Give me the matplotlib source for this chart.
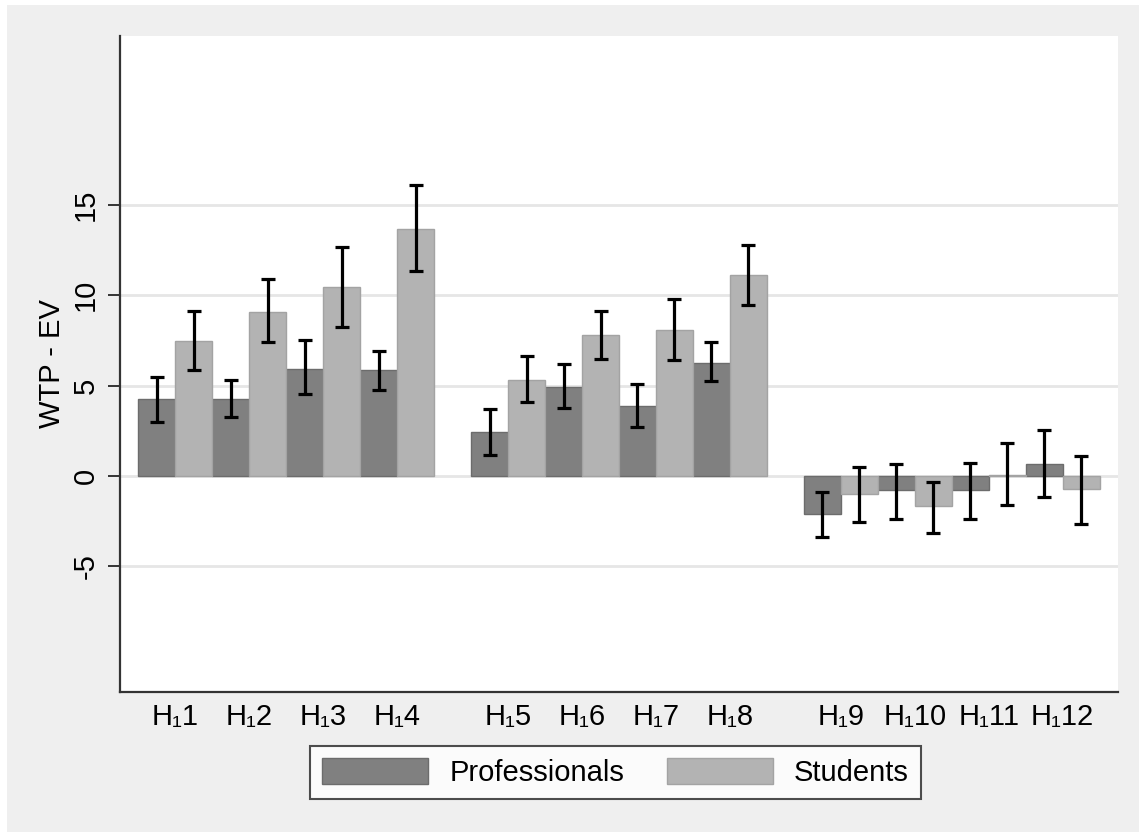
import matplotlib
matplotlib.use("Agg")
import matplotlib.pyplot as plt
from matplotlib.patches import Rectangle
import numpy as np

plt.rcParams['font.family'] = ['Liberation Sans', 'DejaVu Sans']

# hypotheses, in three blocks of four
labels = ["H\u20811", "H\u20812", "H\u20813", "H\u20814",
          "H\u20815", "H\u20816", "H\u20817", "H\u20818",
          "H\u20819", "H\u208110", "H\u208111", "H\u208112"]

# mean WTP - EV with confidence bounds
prof = [4.24, 4.24, 5.92, 5.87, 2.45, 4.93, 3.89, 6.27, -2.10, -0.79, -0.79, 0.66]
prof_lo = [2.97, 3.25, 4.52, 4.78, 1.18, 3.75, 2.71, 5.27, -3.39, -2.38, -2.38, -1.18]
prof_hi = [5.46, 5.30, 7.51, 6.92, 3.69, 6.21, 5.11, 7.42, -0.90, 0.65, 0.70, 2.55]

stud = [7.47, 9.09, 10.46, 13.69, 5.33, 7.80, 8.08, 11.14, -1.00, -1.66, 0.05, -0.74]
stud_lo = [5.87, 7.42, 8.26, 11.34, 4.10, 6.49, 6.40, 9.46, -2.53, -3.14, -1.60, -2.66]
stud_hi = [9.13, 10.92, 12.69, 16.12, 6.66, 9.15, 9.80, 12.80, 0.51, -0.32, 1.81, 1.12]

yticks = [-5, 0, 5, 10, 15]

FS = 21
c_prof, c_stud = '#808080', '#b3b3b3'

fig = plt.figure(figsize=(11.39, 8.32), dpi=100, facecolor='white')
fig.patches.append(Rectangle((7 / 1139, 0), 1, 1 - 5 / 832, transform=fig.transFigure,
                             facecolor='#efefef', edgecolor='none', zorder=-10))

ax = fig.add_axes([120 / 1139, 1 - 692 / 832, 998 / 1139, 656 / 832])
ax.set_facecolor('white')

# bar left edges: 8 bars per block, one empty slot between blocks
idx = np.arange(12)
base = (idx // 4) * 9 + (idx % 4) * 2
x_prof = base
x_stud = base + 1

for y in yticks:
    ax.axhline(y, color='#e6e6e6', lw=2, zorder=0)

ax.bar(x_prof, prof, width=1, align='edge', color=c_prof, edgecolor='#6c6c6c',
       linewidth=1, label='Professionals', zorder=2)
ax.bar(x_stud, stud, width=1, align='edge', color=c_stud, edgecolor='#a3a3a3',
       linewidth=1, label='Students', zorder=2)

p = np.array(prof); s = np.array(stud)
ax.errorbar(x_prof + 0.5, p, yerr=[p - np.array(prof_lo), np.array(prof_hi) - p],
            fmt='none', ecolor='black', elinewidth=2.3, capsize=4.8, capthick=2.3, zorder=3)
ax.errorbar(x_stud + 0.5, s, yerr=[s - np.array(stud_lo), np.array(stud_hi) - s],
            fmt='none', ecolor='black', elinewidth=2.3, capsize=4.8, capthick=2.3, zorder=3)

ax.set_xlim(-0.5, 26.5)
ax.set_ylim(-11.95, 24.35)

ax.set_xticks(base + 1)
ax.set_xticklabels(labels, fontsize=FS)
ax.tick_params(axis='x', length=0, pad=8)

ax.set_yticks(yticks)
ax.set_yticklabels([str(v) for v in yticks], fontsize=FS, rotation=90, va='center')
ax.tick_params(axis='y', length=8.6, width=1.4, color='#333333', pad=6)
ax.set_ylabel('WTP - EV', fontsize=FS, labelpad=4)

for side in ['top', 'right']:
    ax.spines[side].set_visible(False)
for side in ['left', 'bottom']:
    ax.spines[side].set_color('#333333')
    ax.spines[side].set_linewidth(1.6)

leg = fig.legend(loc='center', bbox_to_anchor=(615.5 / 1139, 1 - 772.5 / 832), ncol=2,
                 fontsize=FS, frameon=True, fancybox=False, handlelength=3.65,
                 handleheight=1.0, handletextpad=0.72, columnspacing=1.45,
                 borderpad=0.4, borderaxespad=0)
leg.get_frame().set_edgecolor('#222222')
leg.get_frame().set_linewidth(1.5)

fig.savefig('out.png', dpi=100, facecolor=fig.get_facecolor())
